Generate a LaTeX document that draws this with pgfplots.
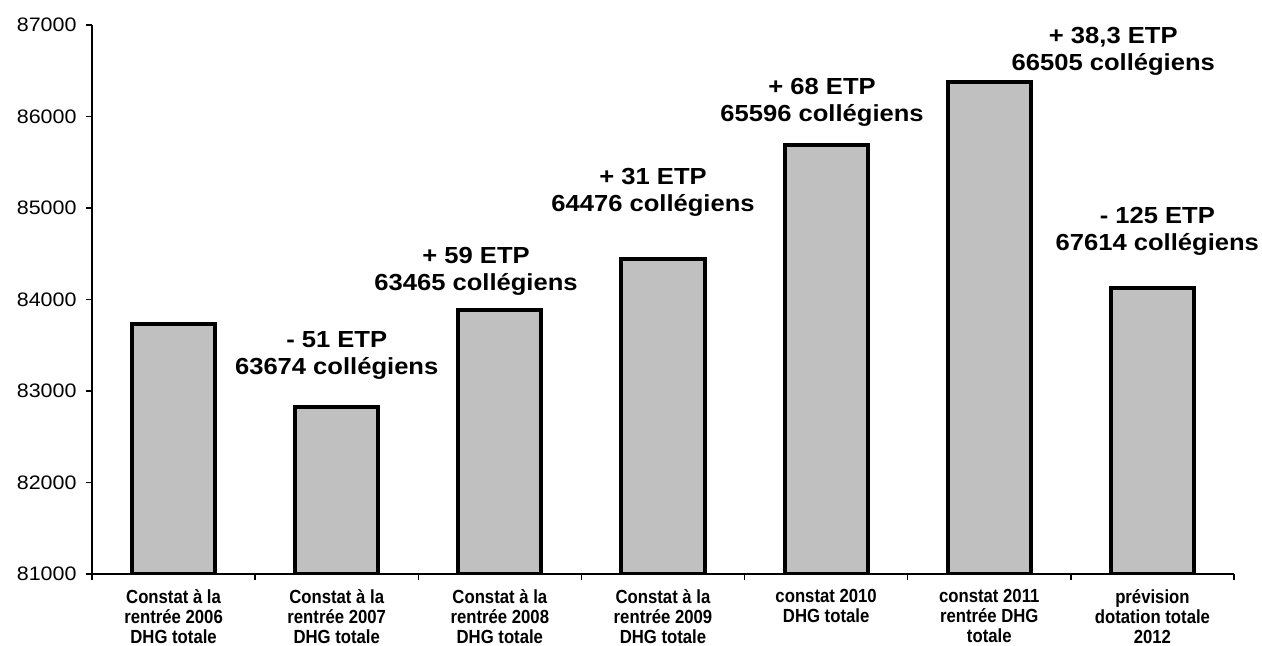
\documentclass[border=0pt]{standalone}
\usepackage{fontspec}
\setmainfont{Liberation Sans}
\newfontfamily\annfont{Liberation Sans}[FakeStretch=1.1]
\newfontfamily\tickfont{Liberation Sans}[FakeStretch=1.1]
\newfontfamily\xlfont{Liberation Sans}[FakeStretch=0.88]
\usepackage{pgfplots}
\pgfplotsset{compat=1.18}
\definecolor{barfill}{RGB}{192,192,192}
\begin{document}
\begin{tikzpicture}
\begin{axis}[
  at={(36.8pt,28.8pt)}, anchor=south west,
  scale only axis, width=456.8pt, height=219.6pt,
  xmin=-0.5, xmax=6.5, ymin=81000, ymax=87000,
  clip mode=individual,
  axis x line*=bottom, axis y line*=left,
  axis line style={line width=0.6pt, black},
  tick align=outside, major tick length=2.4pt,
  tick style={black, line width=0.6pt},
  xtick={-0.5,0.5,...,6.5},
  x tick label as interval,
  xticklabels={{Constat à la\\rentrée 2006\\DHG totale},{Constat à la\\rentrée 2007\\DHG totale},{Constat à la\\rentrée 2008\\DHG totale},{Constat à la\\rentrée 2009\\DHG totale},{constat 2010\\DHG totale},{constat 2011\\rentrée DHG\\totale},{prévision\\dotation totale\\2012}},
  xticklabel style={font=\xlfont\bfseries\fontsize{7.6}{8.0}\selectfont, align=center, inner sep=0pt, anchor=north, yshift=-3.6pt},
  ytick={81000,82000,...,87000},
  scaled y ticks=false,
  yticklabel style={font=\tickfont\fontsize{7.8}{9}\selectfont, inner sep=0pt, anchor=east, xshift=-3.6pt, /pgf/number format/set thousands separator={}, /pgf/number format/assume math mode=true},
  ybar, bar width=0.51, bar shift=0pt,
]
\addplot[draw=black, line width=1.6pt, fill=barfill] coordinates {
  (0,83732) (1,82825) (2,83885) (3,84443) (4,85689) (5,86377) (6,84126)};
\begin{scope}[every node/.style={font=\annfont\bfseries\fontsize{9.3}{10.8}\selectfont, align=center, inner sep=0pt, yshift=-1pt}]
\node at (axis cs:1.0,83421) {- 51 ETP\\63674 collégiens};
\node at (axis cs:1.854,84339) {+ 59 ETP\\63465 collégiens};
\node at (axis cs:2.939,85197) {+ 31 ETP\\64476 collégiens};
\node at (axis cs:3.975,86180) {+ 68 ETP\\65596 collégiens};
\node at (axis cs:5.76,86743) {+ 38,3 ETP\\66505 collégiens};
\node at (axis cs:6.03,84770) {- 125 ETP\\67614 collégiens};
\end{scope}
\end{axis}
\pgfresetboundingbox
\path (0,0) rectangle (504.8pt,258.4pt);
\end{tikzpicture}
\end{document}
